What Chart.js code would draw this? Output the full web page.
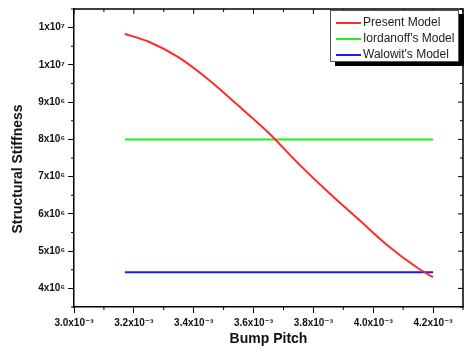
<!DOCTYPE html>
<html>
<head>
<meta charset="utf-8">
<script src="https://cdn.jsdelivr.net/npm/chart.js@4"></script>
<style>
  body { margin: 0; background: #fff; }
  #wrap { position: relative; width: 464px; height: 358px; }
  #legend {
    position: absolute; left: 330px; top: 10px; width: 129px; height: 52px;
    border: 1px solid #555; background: #fff; box-shadow: 5px 4px 0 #000;
    font: 12px "Liberation Sans", Arial, sans-serif; color: #222;
    padding-top: 3px; box-sizing: border-box;
  }
  #legend .row { height: 16px; line-height: 16px; white-space: nowrap; }
  #legend .swatch { display: inline-block; width: 25px; height: 2px; margin: 0 2px 0 5px; vertical-align: middle; }
</style>
</head>
<body>
<div id="wrap">
  <canvas id="chart" width="464" height="358"></canvas>
  <div id="legend"></div>
</div>
<script>
// Present Model curve (pitch in m, stiffness)
const pitch = [3.17e-3, 3.25e-3, 3.35e-3, 3.45e-3, 3.55e-3, 3.65e-3, 3.75e-3, 3.85e-3, 3.95e-3, 4.05e-3, 4.15e-3, 4.20e-3];
const present = [10.83e6, 10.62e6, 10.20e6, 9.60e6, 8.90e6, 8.18e6, 7.35e6, 6.58e6, 5.86e6, 5.14e6, 4.54e6, 4.30e6];

// flat reference models
const flatPitch = [3.17e-3, 4.20e-3];
const iordanoff = [8.0e6, 8.0e6];
const walowit = [4.43e6, 4.43e6];

const seriesNames = ["Present Model", "Iordanoff's Model", "Walowit's Model"];
const seriesColors = ["#ff2a2a", "#22ee22", "#1a1aff"];

const xTicks = [3.0e-3, 3.2e-3, 3.4e-3, 3.6e-3, 3.8e-3, 4.0e-3, 4.2e-3];
const xTickLabels = ["3.0x10⁻³", "3.2x10⁻³", "3.4x10⁻³", "3.6x10⁻³", "3.8x10⁻³", "4.0x10⁻³", "4.2x10⁻³"];
const yTicks = [4e6, 5e6, 6e6, 7e6, 8e6, 9e6, 10e6, 11e6];
const yTickLabels = ["4x10⁶", "5x10⁶", "6x10⁶", "7x10⁶", "8x10⁶", "9x10⁶", "1x10⁷", "1x10⁷"];

const FONT = "'Liberation Sans', Arial, sans-serif";
const TICK_FONT = "'Liberation Sans', 'DejaVu Sans', sans-serif";

const toPoints = (xs, ys) => xs.map((x, i) => ({ x: x, y: ys[i] }));

// minor ticks halfway between majors, plus the axis ends
function minorsOf(ticks, min, max) {
  const out = [];
  const step = ticks[1] - ticks[0];
  if (ticks[0] - step / 2 >= min - 1e-12) out.push(ticks[0] - step / 2);
  for (let i = 0; i < ticks.length - 1; i++) out.push((ticks[i] + ticks[i + 1]) / 2);
  if (ticks[ticks.length - 1] + step / 2 <= max + 1e-12) out.push(ticks[ticks.length - 1] + step / 2);
  return out;
}

const framePlugin = {
  id: "frame",
  afterDraw(chart) {
    const ctx = chart.ctx;
    const a = chart.chartArea;
    const xs = chart.scales.x, ys = chart.scales.y;
    ctx.save();
    ctx.strokeStyle = "#000";
    ctx.lineWidth = 1.5;
    ctx.beginPath();
    ctx.moveTo(a.left, a.top); ctx.lineTo(a.right, a.top); ctx.lineTo(a.right, a.bottom);
    ctx.stroke();

    ctx.lineWidth = 1;
    ctx.beginPath();
    // top axis ticks (inward)
    xTicks.forEach(v => { const p = xs.getPixelForValue(v); ctx.moveTo(p, a.top); ctx.lineTo(p, a.top + 5); });
    minorsOf(xTicks, xs.min, xs.max).forEach(v => {
      const p = xs.getPixelForValue(v);
      ctx.moveTo(p, a.top); ctx.lineTo(p, a.top + 3);
      ctx.moveTo(p, a.bottom); ctx.lineTo(p, a.bottom + 3);
    });
    // right axis ticks (inward) and left minors (outward)
    yTicks.forEach(v => { const p = ys.getPixelForValue(v); ctx.moveTo(a.right, p); ctx.lineTo(a.right - 5, p); });
    minorsOf(yTicks, ys.min, ys.max).forEach(v => {
      const p = ys.getPixelForValue(v);
      ctx.moveTo(a.left, p); ctx.lineTo(a.left - 3, p);
      ctx.moveTo(a.right, p); ctx.lineTo(a.right - 3, p);
    });
    ctx.stroke();

    // axis titles
    ctx.fillStyle = "#111";
    ctx.font = "bold 14px " + FONT;
    ctx.textAlign = "center";
    ctx.textBaseline = "middle";
    ctx.fillText("Bump Pitch", (a.left + a.right) / 2, 339);
    ctx.translate(18, 169);
    ctx.rotate(-Math.PI / 2);
    ctx.fillText("Structural Stiffness", 0, 0);
    ctx.restore();
  }
};

const ctx = document.getElementById("chart").getContext("2d");

new Chart(ctx, {
  type: "line",
  data: {
    datasets: [
      { label: seriesNames[0], data: toPoints(pitch, present), borderColor: seriesColors[0], borderWidth: 2, cubicInterpolationMode: "monotone" },
      { label: seriesNames[1], data: toPoints(flatPitch, iordanoff), borderColor: seriesColors[1], borderWidth: 2 },
      { label: seriesNames[2], data: toPoints(flatPitch, walowit), borderColor: seriesColors[2], borderWidth: 2 }
    ]
  },
  options: {
    responsive: false,
    animation: false,
    layout: { padding: { top: 9, right: 1, left: 0, bottom: 0 } },
    elements: { point: { radius: 0 } },
    plugins: { legend: { display: false }, tooltip: { enabled: false } },
    scales: {
      x: {
        type: "linear",
        min: 3.0e-3,
        max: 4.3e-3,
        afterBuildTicks: s => { s.ticks = xTicks.map(v => ({ value: v })); },
        afterFit: s => { s.height = 51; },
        border: { display: true, color: "#000", width: 1.5 },
        grid: { drawOnChartArea: false, drawTicks: true, tickLength: 6, color: "#000" },
        ticks: {
          autoSkip: false, maxRotation: 0, padding: 4, color: "#111",
          font: { family: TICK_FONT, size: 10, weight: "bold" },
          callback: (v, i) => xTickLabels[i]
        }
      },
      y: {
        min: 3.5e6,
        max: 11.5e6,
        afterBuildTicks: s => { s.ticks = yTicks.map(v => ({ value: v })); },
        afterFit: s => { s.width = 74; },
        border: { display: true, color: "#000", width: 1.5 },
        grid: { drawOnChartArea: false, drawTicks: true, tickLength: 6, color: "#000" },
        ticks: {
          autoSkip: false, padding: 3, color: "#111",
          font: { family: TICK_FONT, size: 10, weight: "bold" },
          callback: (v, i) => yTickLabels[i]
        }
      }
    }
  },
  plugins: [framePlugin]
});

// legend
const legend = document.getElementById("legend");
seriesNames.forEach((name, i) => {
  const row = document.createElement("div");
  row.className = "row";
  const sw = document.createElement("span");
  sw.className = "swatch";
  sw.style.background = seriesColors[i];
  row.appendChild(sw);
  row.appendChild(document.createTextNode(name));
  legend.appendChild(row);
});
</script>
</body>
</html>
